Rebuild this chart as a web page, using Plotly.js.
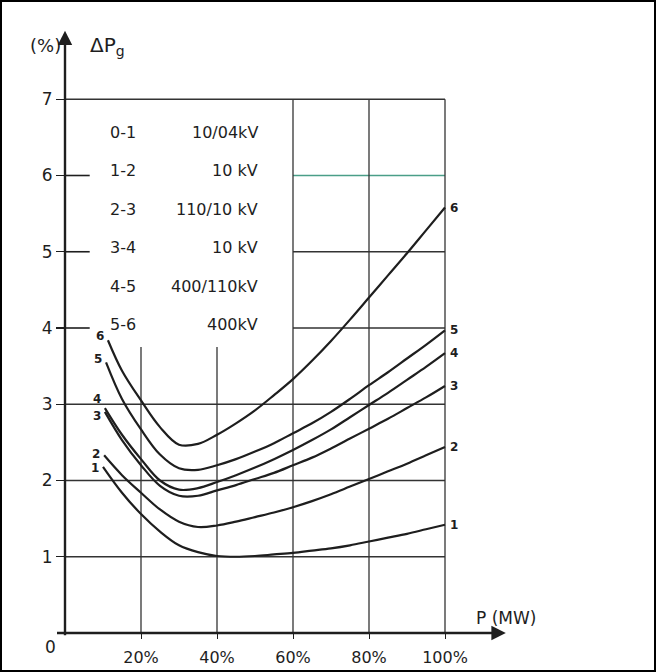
<!DOCTYPE html>
<html><head><meta charset="utf-8">
<script src="https://cdn.plot.ly/plotly-3.0.1.min.js"></script>
<style>
html,body{margin:0;padding:0;background:#fff}
#wrap{position:relative;width:656px;height:672px}
#chart{width:656px;height:672px}
#frame{position:absolute;left:0;top:0;width:656px;height:672px;box-sizing:border-box;border:2px solid #000;pointer-events:none}
</style>
</head><body>
<div id="wrap"><div id="chart"></div><div id="frame"></div></div>
<script>
// ---- data ----
const xTicks = [20, 40, 60, 80, 100];
const xTickLabels = ['20%', '40%', '60%', '80%', '100%'];
const yTicks = [1, 2, 3, 4, 5, 6, 7];
const curveNames = ['1', '2', '3', '4', '5', '6'];

// common load points (% of rated power) after each curve's own first point
const loadPts = [15, 20, 25, 30, 35, 40, 45, 50, 55, 60, 65, 70, 75, 80, 85, 90, 95, 100];
const startX = [10.0, 10.3, 10.5, 10.5, 10.8, 11.3];

const y1 = [2.18, 1.84, 1.56, 1.33, 1.15, 1.06, 1.01, 1.0, 1.01, 1.03, 1.05, 1.08, 1.11, 1.15, 1.2, 1.25, 1.3, 1.36, 1.42];
const y2 = [2.33, 2.07, 1.84, 1.62, 1.46, 1.39, 1.41, 1.46, 1.52, 1.58, 1.65, 1.73, 1.82, 1.92, 2.02, 2.12, 2.22, 2.33, 2.44];
const y3 = [2.9, 2.53, 2.2, 1.93, 1.8, 1.8, 1.87, 1.94, 2.02, 2.1, 2.2, 2.3, 2.42, 2.55, 2.68, 2.81, 2.95, 3.09, 3.24];
const y4 = [2.95, 2.6, 2.28, 2.0, 1.88, 1.9, 1.98, 2.07, 2.17, 2.28, 2.4, 2.53, 2.67, 2.83, 2.99, 3.15, 3.32, 3.49, 3.67];
const y5 = [3.55, 3.07, 2.67, 2.34, 2.16, 2.14, 2.2, 2.28, 2.38, 2.49, 2.62, 2.75, 2.9, 3.07, 3.25, 3.42, 3.6, 3.78, 3.97];
const y6 = [3.84, 3.44, 3.05, 2.7, 2.47, 2.48, 2.6, 2.75, 2.92, 3.12, 3.33, 3.57, 3.83, 4.11, 4.4, 4.69, 4.98, 5.28, 5.58];

const legendCodes = ['0-1', '1-2', '2-3', '3-4', '4-5', '5-6'];
const legendVoltages = ['10/04kV', '10 kV', '110/10 kV', '10 kV', '400/110kV', '400kV'];

// ---- build ----
const ys = [y1, y2, y3, y4, y5, y6];
const xs = startX.map(s => [s].concat(loadPts));
const ink = '#1e1e1e';
const FONT = 'DejaVu Sans, sans-serif';

const traces = xs.map((xx, i) => ({
  x: xx, y: ys[i], type: 'scatter', mode: 'lines', name: curveNames[i],
  line: {color: ink, width: 2.2, shape: 'spline', smoothing: 1.0},
  hoverinfo: 'skip', showlegend: false
}));

const shapes = [];
function hline(y, xa, xb, color, w) {
  shapes.push({type: 'line', xref: 'x', yref: 'y', x0: xa, x1: xb, y0: y, y1: y,
    line: {color: color || '#333', width: w || 1.3}, layer: 'below'});
}
function vline(x, ya, yb) {
  shapes.push({type: 'line', xref: 'x', yref: 'y', x0: x, x1: x, y0: ya, y1: yb,
    line: {color: '#333', width: 1.3}, layer: 'below'});
}
[1, 2, 3, 7].forEach(v => hline(v, 0, 100));
[4, 5].forEach(v => hline(v, 60, 100));
hline(6, 60, 100, '#4a9e88', 1.4);
[4, 5, 6].forEach(v => hline(v, 0, 6.5, ink, 1.6));
[20, 40].forEach(v => vline(v, 0, 3.75));
[60, 80, 100].forEach(v => vline(v, 0, 7));

// pixel -> paper helpers for texts outside the data area
const L = 65, T = 23, W = 456, H = 610;
const px = p => (p - L) / W;
const py = p => (T + H - p) / H;

const annotations = [];
// axis arrows
annotations.push({x: 116, y: 0, ax: -2.5, ay: 0, xref: 'x', yref: 'y', axref: 'x', ayref: 'y',
  text: '', showarrow: true, arrowhead: 2, arrowsize: 1.2, arrowwidth: 2.4, arrowcolor: ink});
annotations.push({x: 0, y: 7.9, ax: 0, ay: -0.05, xref: 'x', yref: 'y', axref: 'x', ayref: 'y',
  text: '', showarrow: true, arrowhead: 2, arrowsize: 1.2, arrowwidth: 2.4, arrowcolor: ink});
// axis titles
annotations.push({x: px(45), y: py(46), xref: 'paper', yref: 'paper', text: '(%)', showarrow: false,
  xanchor: 'center', yanchor: 'middle', font: {family: FONT, size: 18, color: ink}});
annotations.push({x: px(88), y: py(46), xref: 'paper', yref: 'paper', text: 'ΔP<sub>g</sub>', showarrow: false,
  xanchor: 'left', yanchor: 'middle', font: {family: FONT, size: 20, color: ink}});
annotations.push({x: 116, y: 0.2, xref: 'x', yref: 'y', text: 'P (MW)', showarrow: false,
  font: {family: FONT, size: 17, color: ink}});
annotations.push({x: px(50), y: py(647), xref: 'paper', yref: 'paper', text: '0', showarrow: false,
  xanchor: 'center', yanchor: 'middle', font: {family: FONT, size: 17, color: ink}});
// legend table
legendCodes.forEach((c, i) => {
  const yy = 6.57 - i * 0.505;
  annotations.push({x: 11.3, y: yy, xref: 'x', yref: 'y', text: c, showarrow: false,
    xanchor: 'left', font: {family: FONT, size: 16, color: ink}});
  annotations.push({x: 51.3, y: yy, xref: 'x', yref: 'y', text: legendVoltages[i], showarrow: false,
    xanchor: 'right', font: {family: FONT, size: 16, color: ink}});
});
// curve labels
const startOffsets = [-0.02, 0.02, -0.05, 0.12, 0.05, 0.05];
xs.forEach((xx, i) => {
  const n = xx.length - 1;
  annotations.push({x: xx[n] + 0.8, y: ys[i][n], xref: 'x', yref: 'y', text: '<b>' + curveNames[i] + '</b>',
    showarrow: false, xanchor: 'left', font: {family: FONT, size: 12, color: ink}});
  annotations.push({x: xx[0] - 0.6, y: ys[i][0] + startOffsets[i], xref: 'x', yref: 'y', text: '<b>' + curveNames[i] + '</b>',
    showarrow: false, xanchor: 'right', font: {family: FONT, size: 12, color: ink}});
});

const layout = {
  width: 656, height: 672,
  margin: {l: L, r: 656 - L - W, t: T, b: 672 - T - H},
  paper_bgcolor: '#fff', plot_bgcolor: '#fff',
  showlegend: false,
  xaxis: {range: [0, 120], showgrid: false, zeroline: false, showline: false,
    tickvals: xTicks, ticktext: xTickLabels, ticks: 'outside', ticklen: 5, tickcolor: ink,
    ticklabelstandoff: 5, tickfont: {family: FONT, size: 16, color: ink}, fixedrange: true},
  yaxis: {range: [0, 8], showgrid: false, zeroline: false, showline: false,
    tickvals: yTicks, ticks: 'outside', ticklen: 8, tickcolor: ink, tickwidth: 1.4,
    tickfont: {family: FONT, size: 17, color: ink}, fixedrange: true},
  shapes: shapes,
  annotations: annotations
};
Plotly.newPlot('chart', traces, layout, {displayModeBar: false, staticPlot: true});
</script>
</body></html>
